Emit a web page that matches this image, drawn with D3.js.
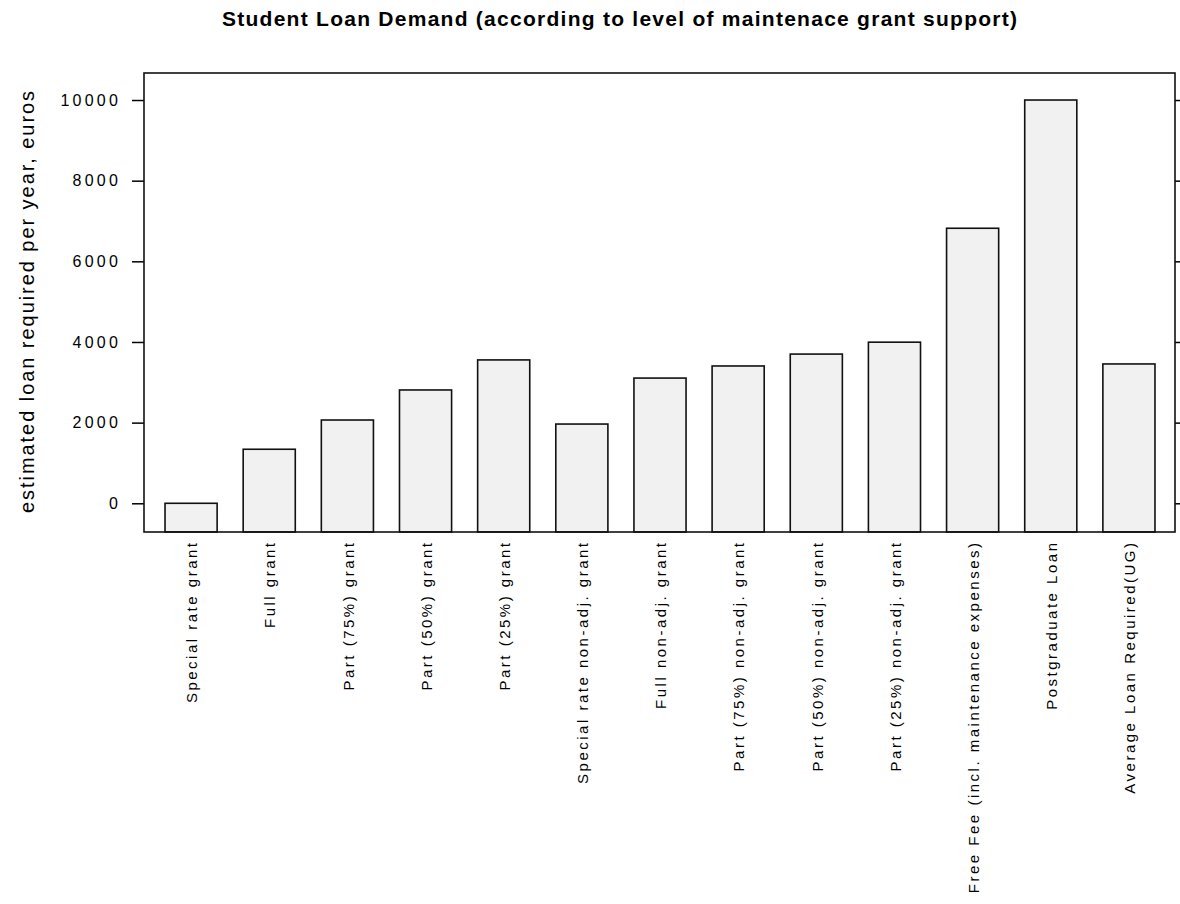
<!DOCTYPE html>
<html>
<head>
<meta charset="utf-8">
<script src="https://cdn.jsdelivr.net/npm/d3@7"></script>
<style>
  body { margin: 0; background: #fff; }
  text { font-family: "Liberation Sans", Arial, sans-serif; fill: #000; }
</style>
</head>
<body>
<svg id="chart" width="1180" height="904"></svg>
<script>
const categories = [
  "Special rate grant",
  "Full grant",
  "Part (75%) grant",
  "Part (50%) grant",
  "Part (25%) grant",
  "Special rate non-adj. grant",
  "Full non-adj. grant",
  "Part (75%) non-adj. grant",
  "Part (50%) non-adj. grant",
  "Part (25%) non-adj. grant",
  "Free Fee (incl. maintenance expenses)",
  "Postgraduate Loan",
  "Average Loan Required(UG)"
];
const values = [0, 1340, 2065, 2810, 3555, 1965, 3105, 3405, 3700, 3995, 6820, 10000, 3455];
const yTicks = [0, 2000, 4000, 6000, 8000, 10000];
const yDomain = [-712, 10670];
const titleText = "Student Loan Demand (according to level of maintenace grant support)";
const yLabel = "estimated loan required per year, euros";

const svg = d3.select("#chart");
const plot = { left: 144, right: 1175, top: 73, bottom: 532 };

const x = d3.scaleBand()
  .domain(categories)
  .range([152, 1168])
  .paddingInner(1/3)
  .paddingOuter(1/6);

const y = d3.scaleLinear().domain(yDomain).range([plot.bottom, plot.top]);

// title
const title = svg.append("text")
  .attr("x", 619.5).attr("y", 26)
  .attr("text-anchor", "middle")
  .style("font-weight", "bold")
  .style("font-size", "21px")
  .text(titleText);
const tl = title.node().getComputedTextLength();
const tSp = (795 - tl) / (titleText.length - 1);
title.style("letter-spacing", tSp + "px").attr("x", 619.5 + tSp / 2);

// y axis left
const gL = svg.append("g").attr("transform", `translate(${plot.left},0)`)
  .call(d3.axisLeft(y).tickValues(yTicks).tickSize(12).tickPadding(11).tickFormat(d3.format("d")));
gL.select(".domain").remove();
gL.selectAll(".tick line").attr("stroke", "#000").attr("stroke-width", 1.5);
gL.selectAll(".tick text")
  .style("font-size", "16px")
  .style("letter-spacing", "3.2px")
  .attr("fill", "#000");

// y axis right
const gR = svg.append("g").attr("transform", `translate(${plot.right},0)`)
  .call(d3.axisRight(y).tickValues(yTicks).tickSize(12).tickFormat(""));
gR.select(".domain").remove();
gR.selectAll(".tick line").attr("stroke", "#000").attr("stroke-width", 1.5);

// bars
svg.append("g").selectAll("rect")
  .data(values)
  .join("rect")
  .attr("x", (d, i) => x(categories[i]))
  .attr("width", x.bandwidth())
  .attr("y", d => y(d))
  .attr("height", d => plot.bottom - y(d))
  .attr("fill", "#f1f1f1")
  .attr("stroke", "#111")
  .attr("stroke-width", 1.6);

// box
svg.append("rect")
  .attr("x", plot.left).attr("y", plot.top)
  .attr("width", plot.right - plot.left).attr("height", plot.bottom - plot.top)
  .attr("fill", "none").attr("stroke", "#111").attr("stroke-width", 1.6);

// x labels
svg.append("g").selectAll("text")
  .data(categories)
  .join("text")
  .attr("transform", d => `translate(${x(d) + x.bandwidth() / 2 + 1},${540.5}) rotate(-90)`)
  .attr("text-anchor", "end")
  .attr("dy", "0.35em")
  .style("font-size", "15px")
  .style("letter-spacing", "2.5px")
  .text(d => d);

// y title
svg.append("text")
  .attr("transform", `translate(34,301) rotate(-90)`)
  .attr("text-anchor", "middle")
  .style("font-size", "20px")
  .style("letter-spacing", "1.95px")
  .text(yLabel);
</script>
</body>
</html>
